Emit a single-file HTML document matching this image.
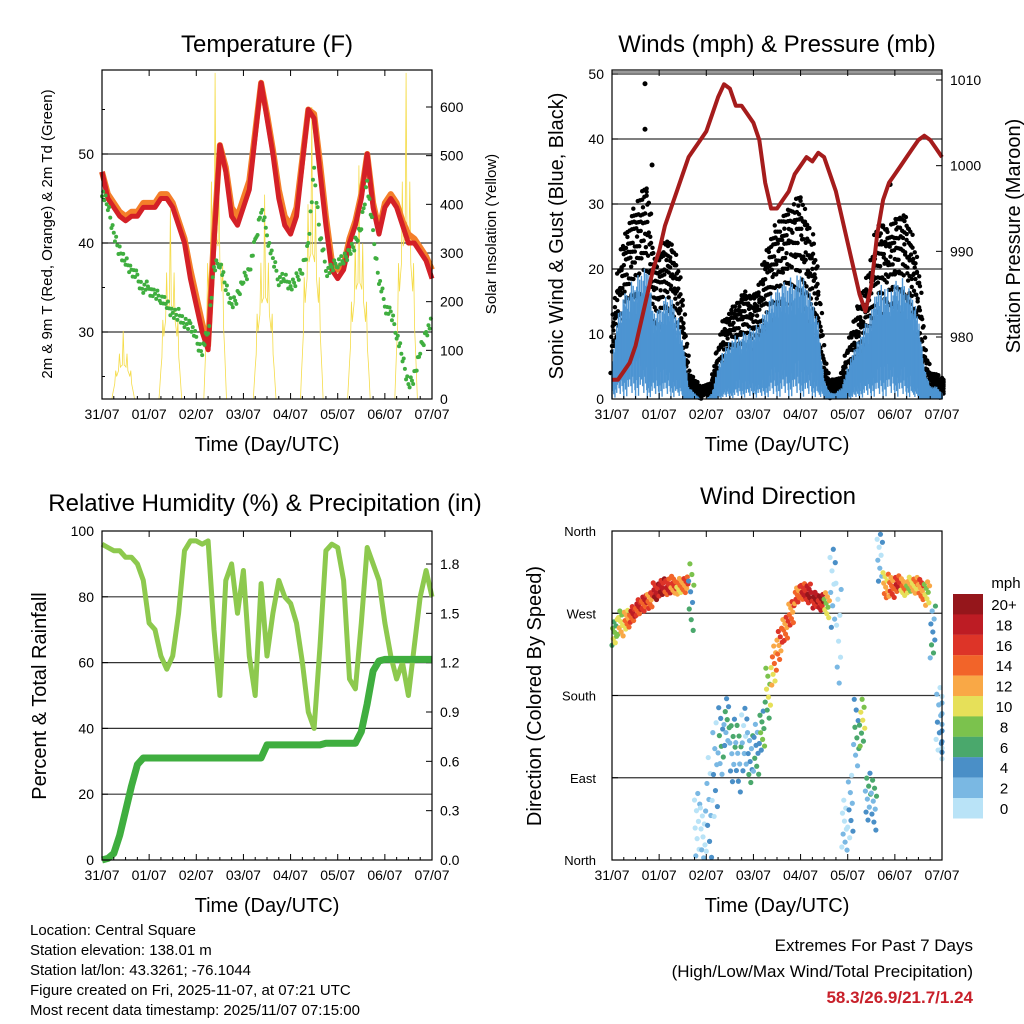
<!DOCTYPE html>
<html><head><meta charset="utf-8"><style>
body{margin:0;background:#fff;}
svg{display:block;font-family:"Liberation Sans",Arial,sans-serif;}
</style></head><body>
<svg id="s" width="1024" height="1024" viewBox="0 0 1024 1024" xmlns="http://www.w3.org/2000/svg"></svg>
<script>
// ---- data (3-hourly samples, 31/07 00Z .. 07/07 00Z) ----
const dayLabels=["31/07","01/07","02/07","03/07","04/07","05/07","06/07","07/07"];
const temp2m=[48,45,44,43,42.5,43,43,44,44,44,45,45,44,42,40,36,33,30,28,40,51,48,43,42,44,46,52,58,54,50,45,42,41,43,49,55,54,48,42,37,36,37,40,42,45,50,44,41,44,45,44,42,40,40,39,38,36];
const temp9m=[48,45.5,44.5,43.5,43,43.5,43.5,44.5,44.5,44.5,45.5,45.5,44.5,42.5,40.5,37,34,31,28.5,41,51,48.5,44,43,45,47,52.5,58,54.5,50.5,46,43,42,44,49.5,55,54.5,49,43,38,37,37.5,40.5,42.5,45.5,50,44.5,41.5,44.5,45.5,44.5,42.5,41,40.5,39.5,38.5,37];
const dewpt=[46,44,41,39,38,37,36,35,35,34,34,33,32,32,31,31,29,28,30,37,38,35,33,34,36,37,40,44,41,38,36,36,35,36,37,40,48,41,37,37,38,38,39,40,42,47,41,36,33,32,30,27,24,25,28,30,31];
const solarDay=[0.45,1.45,2.4,3.45,4.45,5.45,6.45];
const solarPeak=[140,390,670,420,600,480,670];
const pressure=[975,975,976,977,979,982,985,988,990,993,995,997,999,1001,1002,1003,1004,1006,1008,1009.5,1009,1007,1007,1006,1005,1003,998,995,995,996,997,999,1000,1001,1000.5,1001.5,1001,999,997,994,991,988,985,983,986,992,996,998,999,1000,1001,1002,1003,1003.5,1003,1002,1001];
const gustHi=[10,20,25,28,30,32,35,22,22,25,24,22,15,4,3,2,2,3,8,12,14,15,16,17,16,18,22,25,27,28,30,30,32,28,25,18,6,3,3,4,8,12,15,18,22,27,28,26,28,29,28,25,20,8,4,4,3];
const gustLo=[4,8,10,11,12,13,14,9,9,10,10,9,6,1,0,0,0,0,2,4,5,5,6,6,6,7,8,10,10,11,12,12,12,11,10,7,2,0,0,0,2,4,5,7,8,10,11,10,11,11,11,10,8,2,0,0,0];
const windHi=[6,13,16,18,19,20,21,14,14,16,16,14,10,2,1,0,0,1,5,8,9,10,10,11,11,12,14,16,17,18,19,19,20,18,16,12,3,1,1,2,5,8,10,12,14,17,18,17,18,19,18,16,13,5,2,2,1];
const windLo=[3,5,6,6,7,6,4,5,5,5,4,3,0,0,0,0,0,0,1,2,2,3,3,3,3,3,4,5,5,6,6,6,5,5,4,2,0,0,0,0,1,2,3,4,5,5,6,6,5,5,4,2,0,0,0,0,0];
const gustOutT=[0.7,0.7,0.85,5.9];
const gustOutV=[48.5,41.5,36,33];
const rh=[96,95,94,94,92,92,90,85,72,70,62,58,62,75,94,97,97,96,97,70,50,85,90,75,88,62,50,84,62,75,85,80,78,72,60,45,40,65,94,96,95,85,55,52,72,95,90,85,72,62,55,60,50,65,80,88,80];
const precip=[0,0.01,0.04,0.15,0.3,0.45,0.58,0.62,0.62,0.62,0.62,0.62,0.62,0.62,0.62,0.62,0.62,0.62,0.62,0.62,0.62,0.62,0.62,0.62,0.62,0.62,0.62,0.62,0.7,0.7,0.7,0.7,0.7,0.7,0.7,0.7,0.7,0.7,0.71,0.71,0.71,0.71,0.71,0.71,0.78,0.95,1.15,1.21,1.22,1.22,1.22,1.22,1.22,1.22,1.22,1.22,1.22];
const dirMid=[250,258,262,270,275,280,285,295,298,300,302,300,302,290,40,30,60,100,130,150,120,110,130,110,120,140,180,210,235,255,268,290,295,290,285,283,280,300,250,40,60,140,150,70,60,330,300,298,302,298,300,300,295,290,250,160,140];
const dirHalf=[15,15,12,10,10,10,10,10,10,10,10,10,10,40,40,30,60,60,40,30,40,40,40,30,30,25,30,25,20,15,15,10,10,12,10,10,15,50,60,30,40,40,30,30,30,30,15,12,10,10,10,10,12,15,30,40,40];
const dirSpd=[9,10,12,16,16,16,15,18,18,16,14,12,14,6,1,1,2,3,4,5,4,4,3,4,5,6,8,12,14,14,14,14,16,18,18,18,10,2,1,1,2,5,8,4,4,3,12,14,16,12,10,12,14,10,4,2,2];
const cbLabels=["20+","18","16","14","12","10","8","6","4","2","0"];
const cbColors=["#95161b","#bd1c24","#dd3428","#f26429","#f9a846","#e6e059","#7bc24d","#4aa86c","#4a8fc7","#7ab8e3","#b9e3f7"];

const S=document.getElementById('s');
const NS="http://www.w3.org/2000/svg";
function mk(tag,attrs,name,parent){const e=document.createElementNS(NS,tag);for(const k in attrs)e.setAttribute(k,attrs[k]);


(parent||S).appendChild(e);return e;}
function txt(x,y,s,size,name,opts){opts=opts||{};const t=mk('text',{x:x,y:y,'font-size':size,'text-anchor':opts.a||'middle',fill:opts.fill||'#000','font-weight':opts.w||'normal'},name);if(opts.rot)t.setAttribute('transform','rotate('+opts.rot+' '+x+' '+y+')');t.textContent=s;return t;}
function lin(a,b,c,d){return v=>c+(v-a)*(d-c)/(b-a);}
function fr(a){return a-Math.floor(a);}

function xAxis(x0,x1,y1,g){
  const xs=lin(0,7,x0,x1);
  dayLabels.forEach((l,i)=>{const x=xs(i);
    mk('line',{x1:x,y1:y1,x2:x,y2:y1-6,stroke:'#000','stroke-width':1},'x-tick',g);
    mk('line',{x1:x,y1:y1-329,x2:x,y2:y1-323,stroke:'#000','stroke-width':1},'x-tick-top',g);
    txt(x,y1+20,l,14,'x-tick-label');});
  for(let i=0;i<7;i++)for(let k=1;k<4;k++){const x=xs(i+k/4);
    mk('line',{x1:x,y1:y1,x2:x,y2:y1-3,stroke:'#000'},'x-minor-tick',g);}
  txt((x0+x1)/2,y1+52,'Time (Day/UTC)',20,'x-axis-title');
  return xs;
}
function box(x0,y0,x1,y1,g){mk('rect',{x:x0,y:y0,width:x1-x0,height:y1-y0,fill:'none',stroke:'#000','stroke-width':1.2},'plot-border',g);}
const T3=(i)=>i*3/24;

// ================= Temperature panel =================
(function(){
  const x0=102,x1=432,y0=70,y1=399;
  const g=mk('g',{},'temperature-panel');
  const xs=lin(0,7,x0,x1), ys=lin(30,50,332,154), yr=lin(0,600,399,107);
  [30,40,50].forEach(v=>{mk('line',{x1:x0,x2:x1,y1:ys(v),y2:ys(v),stroke:'#333','stroke-width':1.2},'grid-line',g);
    mk('line',{x1:x0,x2:x0+6,y1:ys(v),y2:ys(v),stroke:'#000'},'y-tick',g);
    txt(x0-8,ys(v)+5,String(v),14,'y-tick-label',{a:'end'});});
  for(let v=25;v<=55;v+=5){if(v%10)mk('line',{x1:x0,x2:x0+3,y1:ys(v),y2:ys(v),stroke:'#000'},'y-minor-tick',g);}
  for(let v=0;v<=600;v+=100){mk('line',{x1:x1,x2:x1-6,y1:yr(v),y2:yr(v),stroke:'#000'},'y2-tick',g);
    txt(x1+8,yr(v)+5,String(v),14,'y2-tick-label',{a:'start'});}
  // solar
  let d='';
  solarDay.forEach((c,j)=>{const pk=solarPeak[j];
    for(let k=-12;k<=12;k++){const t=c+k*0.02;const f=Math.max(0,1-Math.pow(k/12,2));
      const v=pk*f*(k===0?1:(k%4===0?0.75:0.5));d+=(k===-12?'M':'L')+xs(t).toFixed(1)+','+yr(v).toFixed(1);}});
  mk('path',{d:d,fill:'none',stroke:'#f5dc4a','stroke-width':0.8},'solar-insolation-line',g);
  function poly(arr){return arr.map((v,i)=>(i?'L':'M')+xs(T3(i)).toFixed(1)+','+ys(v).toFixed(1)).join('');}
  mk('path',{d:poly(temp9m),fill:'none',stroke:'#f47f2a','stroke-width':6,'stroke-linejoin':'round'},'temp-9m-line',g);
  mk('path',{d:poly(temp2m),fill:'none',stroke:'#d42027','stroke-width':5,'stroke-linejoin':'round'},'temp-2m-line',g);
  for(let i=0;i<dewpt.length-1;i++)for(let k=0;k<5;k++){const f=k/5;const v=dewpt[i]+(dewpt[i+1]-dewpt[i])*f+(fr(k*0.618+i*0.3)-0.5)*1.5;
    mk('circle',{cx:xs(T3(i+f)),cy:ys(v),r:2,fill:'#3fae3f'},'dewpoint-point',g);}
  box(x0,y0,x1,y1,g);
  xAxis(x0,x1,y1,g);
  txt(267,52,'Temperature (F)',24,'chart-title');
  txt(52,234,'2m & 9m T (Red, Orange) & 2m Td (Green)',15,'y-axis-title',{rot:-90});
  txt(496,234,'Solar Insolation (Yellow)',15,'y2-axis-title',{rot:-90});
})();

// ================= Winds panel =================
(function(){
  const x0=612,x1=942,y0=70,y1=399;
  const g=mk('g',{},'winds-panel');
  const xs=lin(0,7,x0,x1), ys=lin(0,50,399,74), yp=lin(980,1010,337,80);
  [10,20,30,40,50].forEach(v=>mk('line',{x1:x0,x2:x1,y1:ys(v),y2:ys(v),stroke:'#333','stroke-width':1.2},'grid-line',g));
  mk('line',{x1:x0,x2:x1,y1:72,y2:72,stroke:'#333'},'grid-line',g);
  [0,10,20,30,40,50].forEach(v=>{mk('line',{x1:x0,x2:x0+6,y1:ys(v),y2:ys(v),stroke:'#000'},'y-tick',g);
    txt(x0-8,ys(v)+5,String(v),14,'y-tick-label',{a:'end'});});
  [980,990,1000,1010].forEach(v=>{mk('line',{x1:x1,x2:x1-6,y1:yp(v),y2:yp(v),stroke:'#000'},'y2-tick',g);
    txt(x1+8,yp(v)+5,String(v),14,'y2-tick-label',{a:'start'});});
  const N=57;
  // gust dots
  for(let i=0;i<N;i++){const n=8;for(let k=0;k<n;k++){const f=k/n;const t=Math.min(7,T3(i+f));
      const j=Math.min(i+1,N-1);
      const hi=gustHi[i]+(gustHi[j]-gustHi[i])*f, lo=gustLo[i]+(gustLo[j]-gustLo[i])*f;
      for(let m=0;m<3;m++){const v=lo+(hi-lo)*Math.pow(fr(m*0.37+k*0.618+i*0.21),0.6);
        mk('circle',{cx:xs(t)+(m-1)*1.5,cy:ys(v),r:2.2,fill:'#000'},'gust-point',g);}}}
  gustOutT.forEach((t,j)=>mk('circle',{cx:xs(t),cy:ys(gustOutV[j]),r:2.5,fill:'#000'},'gust-outlier',g));
  // sonic wind
  for(let i=0;i<N;i++){const n=10;for(let k=0;k<n;k++){const f=k/n;const t=Math.min(7,T3(i+f));
      const j=Math.min(i+1,N-1);
      const hi=(windHi[i]+(windHi[j]-windHi[i])*f)*(0.65+0.35*fr(k*0.618+i*0.37));
      const lo=windLo[i]*fr(k*0.414+i*0.5);
      mk('line',{x1:xs(t),x2:xs(t),y1:ys(lo),y2:ys(hi),stroke:'#4d94d2','stroke-width':1.4},'sonic-wind-bar',g);}}
  const dp=pressure.map((v,i)=>(i?'L':'M')+xs(T3(i)).toFixed(1)+','+yp(v).toFixed(1)).join('');
  mk('path',{d:dp,fill:'none',stroke:'#a51c1c','stroke-width':4,'stroke-linejoin':'round'},'pressure-line',g);
  box(x0,y0,x1,y1,g);
  xAxis(x0,x1,y1,g);
  txt(777,52,'Winds (mph) & Pressure (mb)',24,'chart-title');
  txt(563,236,'Sonic Wind & Gust (Blue, Black)',20,'y-axis-title',{rot:-90});
  txt(1020,236,'Station Pressure (Maroon)',20,'y2-axis-title',{rot:-90});
})();

// ================= RH panel =================
(function(){
  const x0=102,x1=432,y0=531,y1=860;
  const g=mk('g',{},'humidity-panel');
  const xs=lin(0,7,x0,x1), ys=lin(0,100,860,531), yr=lin(0,1.8,860,564);
  [20,40,60,80].forEach(v=>mk('line',{x1:x0,x2:x1,y1:ys(v),y2:ys(v),stroke:'#333','stroke-width':1.2},'grid-line',g));
  [0,20,40,60,80,100].forEach(v=>{mk('line',{x1:x0,x2:x0+6,y1:ys(v),y2:ys(v),stroke:'#000'},'y-tick',g);
    txt(x0-8,ys(v)+5,String(v),14,'y-tick-label',{a:'end'});});
  ['0.0','0.3','0.6','0.9','1.2','1.5','1.8'].forEach(l=>{const v=parseFloat(l);mk('line',{x1:x1,x2:x1-6,y1:yr(v),y2:yr(v),stroke:'#000'},'y2-tick',g);
    txt(x1+8,yr(v)+5,l,14,'y2-tick-label',{a:'start'});});
  const d1=rh.map((v,i)=>(i?'L':'M')+xs(T3(i)).toFixed(1)+','+ys(v).toFixed(1)).join('');
  mk('path',{d:d1,fill:'none',stroke:'#8dc94e','stroke-width':5,'stroke-linejoin':'round'},'rh-line',g);
  const d2=precip.map((v,i)=>(i?'L':'M')+xs(T3(i)).toFixed(1)+','+yr(v).toFixed(1)).join('');
  mk('path',{d:d2,fill:'none',stroke:'#3fae3f','stroke-width':7,'stroke-linejoin':'round'},'precip-line',g);
  box(x0,y0,x1,y1,g);
  xAxis(x0,x1,y1,g);
  txt(265,511,'Relative Humidity (%) & Precipitation (in)',24,'chart-title');
  txt(46,696,'Percent & Total Rainfall',20,'y-axis-title',{rot:-90});
})();

// ================= Wind direction panel =================
(function(){
  const x0=612,x1=942,y0=531,y1=860;
  const g=mk('g',{},'wind-direction-panel');
  const xs=lin(0,7,x0,x1), ys=lin(0,360,860,531);
  [90,180,270].forEach(v=>mk('line',{x1:x0,x2:x1,y1:ys(v),y2:ys(v),stroke:'#333','stroke-width':1.2},'grid-line',g));
  ['North','East','South','West','North'].forEach((l,i)=>{const v=i*90;mk('line',{x1:x0,x2:x0+6,y1:ys(v),y2:ys(v),stroke:'#000'},'y-tick',g);
    txt(x0-16,ys(v)+5,l,13,'y-tick-label',{a:'end'});});
  function col(s){const k=Math.min(10,Math.max(0,Math.floor(s/2)));return cbColors[10-k];}
  for(let i=0;i<dirMid.length;i++){const n=9;for(let k=0;k<n;k++){const f=k/n;const t=Math.min(7,T3(i+f));
      const off=fr(k*0.618+i*0.13)*2-1;let d=dirMid[i]+dirHalf[i]*off;d=((d%360)+360)%360;
      const s=dirSpd[i]+((k%3)-1)*2;
      mk('circle',{cx:xs(t),cy:ys(d),r:2.6,fill:col(s)},'direction-point',g);}}
  box(x0,y0,x1,y1,g);
  xAxis(x0,x1,y1,g);
  txt(778,504,'Wind Direction',24,'chart-title');
  txt(541,696,'Direction (Colored By Speed)',20,'y-axis-title',{rot:-90});
  const cb=mk('g',{},'speed-colorbar');
  txt(1006,588,'mph',15,'colorbar-title');
  cbColors.forEach((c,i)=>{const y=594+i*20.4;mk('rect',{x:953,y:y,width:30,height:20.5,fill:c},'colorbar-swatch',cb);
    txt(1004,y+16,cbLabels[i],15,'colorbar-label');});
})();

// ================= Footer text =================
const info=["Location: Central Square","Station elevation: 138.01 m","Station lat/lon: 43.3261; -76.1044","Figure created on Fri, 2025-11-07, at 07:21 UTC","Most recent data timestamp: 2025/11/07 07:15:00"];
info.forEach((s,i)=>txt(30,935+i*20,s,15,'station-info-line',{a:'start'}));
txt(973,951,'Extremes For Past 7 Days',17,'extremes-title',{a:'end'});
txt(973,977,'(High/Low/Max Wind/Total Precipitation)',17,'extremes-subtitle',{a:'end'});
txt(973,1003,'58.3/26.9/21.7/1.24',17,'extremes-values',{a:'end',fill:'#c8202a',w:'bold'});
</script>
</body></html>
